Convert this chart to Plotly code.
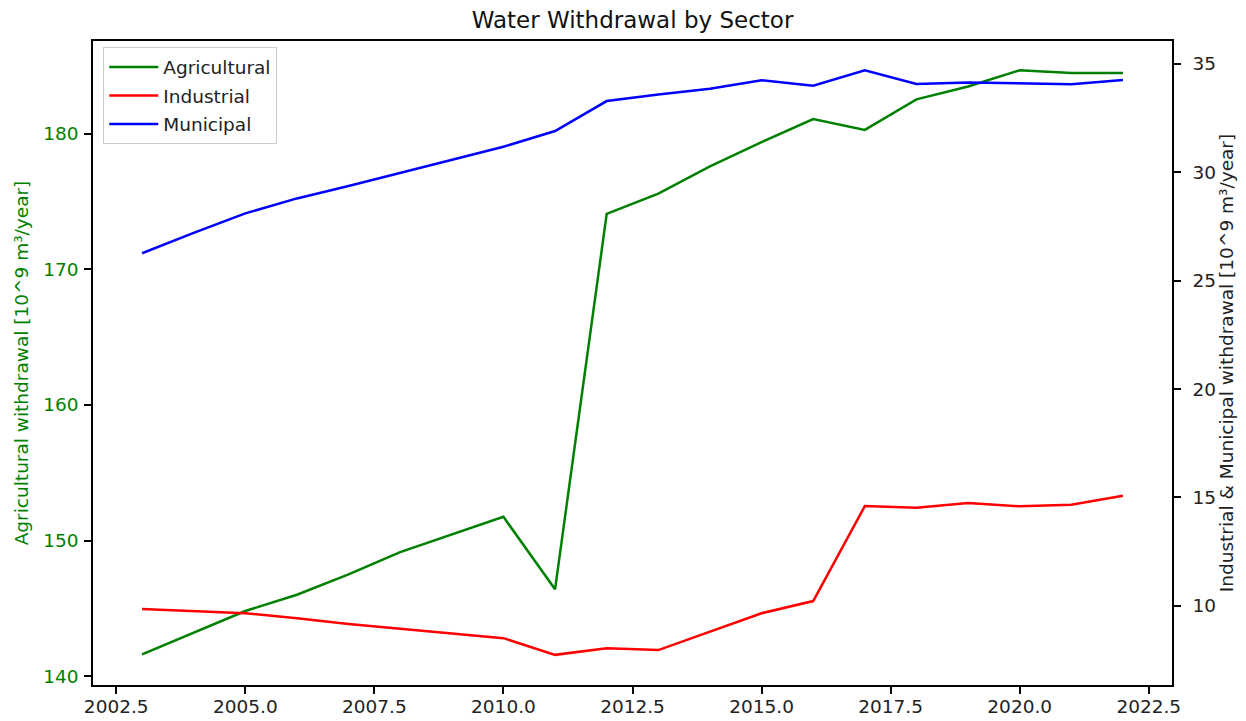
import plotly.graph_objects as go

years = list(range(2003, 2023))
agricultural = [141.6, 143.2, 144.8, 146.0, 147.5, 149.15, 150.45, 151.75, 146.4, 174.1,
                175.6, 177.6, 179.4, 181.1, 180.3, 182.55, 183.5, 184.7, 184.5, 184.5]
industrial = [9.85, 9.75, 9.66, 9.43, 9.16, 8.94, 8.74, 8.51, 7.74, 8.05,
              7.96, 8.82, 9.66, 10.22, 14.6, 14.53, 14.74, 14.59, 14.66, 15.08]
municipal = [26.26, 27.2, 28.1, 28.79, 29.36, 29.97, 30.55, 31.17, 31.9, 33.28,
             33.58, 33.85, 34.24, 33.99, 34.7, 34.07, 34.14, 34.11, 34.05, 34.25]

x_ticks = [2002.5, 2005.0, 2007.5, 2010.0, 2012.5, 2015.0, 2017.5, 2020.0, 2022.5]
left_ticks = [140, 150, 160, 170, 180]
right_ticks = [10, 15, 20, 25, 30, 35]

FONT = "DejaVu Sans"
FS = 18.5

fig = go.Figure()
fig.add_trace(go.Scatter(x=years, y=agricultural, name="Agricultural", mode="lines",
                         legendgroup="a",
                         line=dict(color="#008000", width=2.5), yaxis="y"))
fig.add_trace(go.Scatter(x=years, y=industrial, name="Industrial", mode="lines",
                         legendgroup="b",
                         line=dict(color="#ff0000", width=2.5), yaxis="y2"))
fig.add_trace(go.Scatter(x=years, y=municipal, name="Municipal", mode="lines",
                         legendgroup="c",
                         line=dict(color="#0000ff", width=2.5), yaxis="y2"))

fig.update_layout(
    width=1246, height=721,
    margin=dict(l=93, r=74, t=41, b=36, autoexpand=False),
    paper_bgcolor="white", plot_bgcolor="white",
    font=dict(family=FONT, size=FS, color="#222222"),
    title=dict(text="Water Withdrawal by Sector", xref="paper", x=0.5, xanchor="center",
               y=1 - 20 / 721, yanchor="middle", font=dict(size=23, color="#111111")),
    showlegend=True,
    legend=dict(x=0.0095, y=0.99, xanchor="left", yanchor="top",
                bgcolor="rgba(255,255,255,0.8)", bordercolor="#cccccc", borderwidth=1,
                font=dict(size=FS, color="#222222"), tracegroupgap=1.5, itemwidth=49),
    xaxis=dict(range=[2002.05, 2022.95], tickvals=x_ticks, tickformat=".1f",
               showgrid=False, zeroline=False, showline=True, linecolor="black",
               linewidth=1.5, mirror=True, ticks="outside", ticklen=7, tickwidth=1.5,
               tickcolor="black", automargin=False, ticklabelstandoff=-3,
               tickfont=dict(size=FS, color="#222222")),
    yaxis=dict(range=[139.34, 186.86], tickvals=left_ticks, showgrid=False, zeroline=False,
               showline=True, linecolor="black", linewidth=1.5, ticks="outside", ticklen=7,
               tickwidth=1.5, tickcolor="black", automargin=False, ticklabelstandoff=2,
               tickfont=dict(size=FS, color="#008000"),
               title=dict(text="Agricultural withdrawal [10^9 m³/year]",
                          font=dict(size=FS, color="#008000"), standoff=10)),
    yaxis2=dict(range=[6.35, 36.05], tickvals=right_ticks, overlaying="y", side="right",
                showgrid=False, zeroline=False, showline=True, linecolor="black",
                linewidth=1.5, ticks="outside", ticklen=7, tickwidth=1.5, tickcolor="black",
                automargin=False, ticklabelstandoff=8,
                tickfont=dict(size=FS, color="#222222"),
                title=dict(text="Industrial & Municipal withdrawal [10^9 m³/year]",
                           font=dict(size=FS, color="#222222"), standoff=4)),
)

fig.write_html("out.html", config={"displayModeBar": False},
               post_script="document.body.style.margin='0px';")
